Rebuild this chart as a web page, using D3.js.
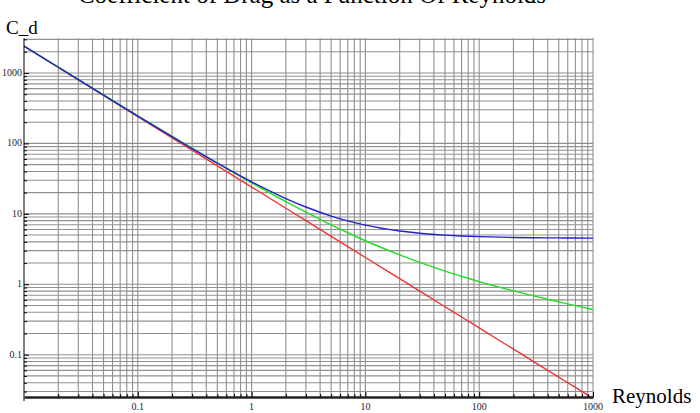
<!DOCTYPE html>
<html>
<head>
  <title>Coefficient of Drag as a Function Of Reynolds</title>
  <script src="https://d3js.org/d3.v7.min.js"></script>
  <style>
    body { margin: 0; background: #fff; }
    text { font-family: "Liberation Serif", "DejaVu Serif", serif; }
  </style>
</head>
<body>
  <div id="chart"></div>

  <script>
    // Reynolds numbers sampled along the x axis
    const reynolds = [0.01, 0.02, 0.05, 0.1, 0.2, 0.5, 1, 2, 3, 5, 7, 10, 20, 30, 50, 70, 100, 200, 300, 500, 700, 1000];

    // C_d
    const blueCd = [2404, 1204, 484, 244, 124.5, 52.5, 28.5, 16.5, 12.5, 9.3, 7.93, 6.9, 5.7, 5.3, 4.98, 4.84, 4.74, 4.62, 4.58, 4.55, 4.53, 4.52];
    const greenCd = [2415, 1212, 489, 247, 126, 52.5, 27.6, 14.9, 10.55, 6.98, 5.39, 4.15, 2.61, 2.04, 1.54, 1.3, 1.09, 0.806, 0.684, 0.563, 0.497, 0.438];
    const redCd = [2400, 1200, 480, 240, 120, 48, 24, 12, 8, 4.8, 3.43, 2.4, 1.2, 0.8, 0.48, 0.343, 0.24, 0.12, 0.08, 0.048, 0.0343, 0.024];

    const xTickLabels = [0.1, 1, 10, 100, 1000];
    const yTickLabels = [0.1, 1, 10, 100, 1000];

    const width = 700;
    const height = 413;
    const margin = { top: 38, right: 107, bottom: 16, left: 24 };
    const innerWidth = width - margin.left - margin.right;
    const innerHeight = height - margin.top - margin.bottom;

    const svg = d3.select("#chart")
      .append("svg")
      .attr("width", width)
      .attr("height", height);

    const g = svg.append("g")
      .attr("transform", `translate(${margin.left}, ${margin.top})`);

    const xScale = d3.scaleLog()
      .domain([0.01, 1000])
      .range([0, innerWidth]);

    const yScale = d3.scaleLog()
      .domain([0.0251, 3135])
      .range([innerHeight, 0]);

    // grid lines at every 1..9 of each decade
    const xGrid = [];
    for (let e = -2; e <= 2; e++) for (let m = 1; m <= 9; m++) xGrid.push(m * Math.pow(10, e));
    xGrid.push(1000);
    const yGrid = [];
    for (let e = -2; e <= 3; e++) for (let m = 1; m <= 9; m++) {
      const v = m * Math.pow(10, e);
      if (v >= 0.0251 && v <= 3135) yGrid.push(v);
    }

    g.append("g").selectAll("line")
      .data(xGrid.slice(1))
      .enter().append("line")
      .attr("x1", d => xScale(d)).attr("x2", d => xScale(d))
      .attr("y1", 0).attr("y2", innerHeight)
      .attr("stroke", "#909090").attr("stroke-width", 1.1);

    g.append("g").selectAll("line")
      .data(yGrid)
      .enter().append("line")
      .attr("x1", 0).attr("x2", innerWidth)
      .attr("y1", d => yScale(d)).attr("y2", d => yScale(d))
      .attr("stroke", "#909090").attr("stroke-width", 1.1);

    // curves
    const line = d3.line()
      .x(d => xScale(d[0]))
      .y(d => yScale(d[1]))
      .curve(d3.curveMonotoneX);

    const series = [
      { values: redCd, color: "#ee3333" },
      { values: greenCd, color: "#22dd22" },
      { values: blueCd, color: "#2222cc" }
    ];

    g.selectAll(".curve")
      .data(series)
      .enter().append("path")
      .attr("class", "curve")
      .attr("d", s => line(reynolds.map((r, i) => [r, s.values[i]])))
      .attr("fill", "none")
      .attr("stroke", s => s.color)
      .attr("stroke-width", 1.4);

    // axes
    const isMajor = d => Math.abs(Math.log10(d) - Math.round(Math.log10(d))) < 1e-6;

    const yAxis = g.append("g")
      .call(d3.axisRight(yScale)
        .tickValues(yGrid)
        .tickFormat("")
        .tickSizeOuter(0));
    yAxis.select(".domain").attr("stroke", "#000").attr("d", `M0,${innerHeight + 4}V0`);
    yAxis.selectAll(".tick line").attr("x2", d => isMajor(d) ? 5 : 3).attr("stroke", "#000");

    const xAxis = g.append("g")
      .attr("transform", `translate(0, ${innerHeight})`)
      .call(d3.axisTop(xScale)
        .tickValues(xGrid.slice(1))
        .tickFormat("")
        .tickSizeOuter(0));
    xAxis.select(".domain").attr("stroke", "#222").attr("stroke-width", 2.5);
    xAxis.selectAll(".tick line").attr("y2", d => isMajor(d) ? -5 : -3).attr("stroke", "#000");

    g.selectAll(".xlab")
      .data(xTickLabels)
      .enter().append("text")
      .attr("x", d => xScale(d))
      .attr("y", innerHeight + 13)
      .attr("text-anchor", "middle")
      .attr("font-size", 10)
      .attr("fill", "#223")
      .text(d => d);

    g.selectAll(".ylab")
      .data(yTickLabels)
      .enter().append("text")
      .attr("x", -2)
      .attr("y", d => yScale(d) + 3)
      .attr("text-anchor", "end")
      .attr("font-size", 10)
      .attr("fill", "#223")
      .text(d => d);

    // labels and title
    svg.append("text")
      .attr("x", 6).attr("y", 34)
      .attr("font-size", 19)
      .text("C_d");

    svg.append("text")
      .attr("x", 612).attr("y", 403)
      .attr("font-size", 21)
      .text("Reynolds");

    svg.append("text")
      .attr("x", 312).attr("y", 3)
      .attr("text-anchor", "middle")
      .attr("font-size", 25)
      .text("Coefficient of Drag as a Function Of Reynolds");
  </script>
</body>
</html>
